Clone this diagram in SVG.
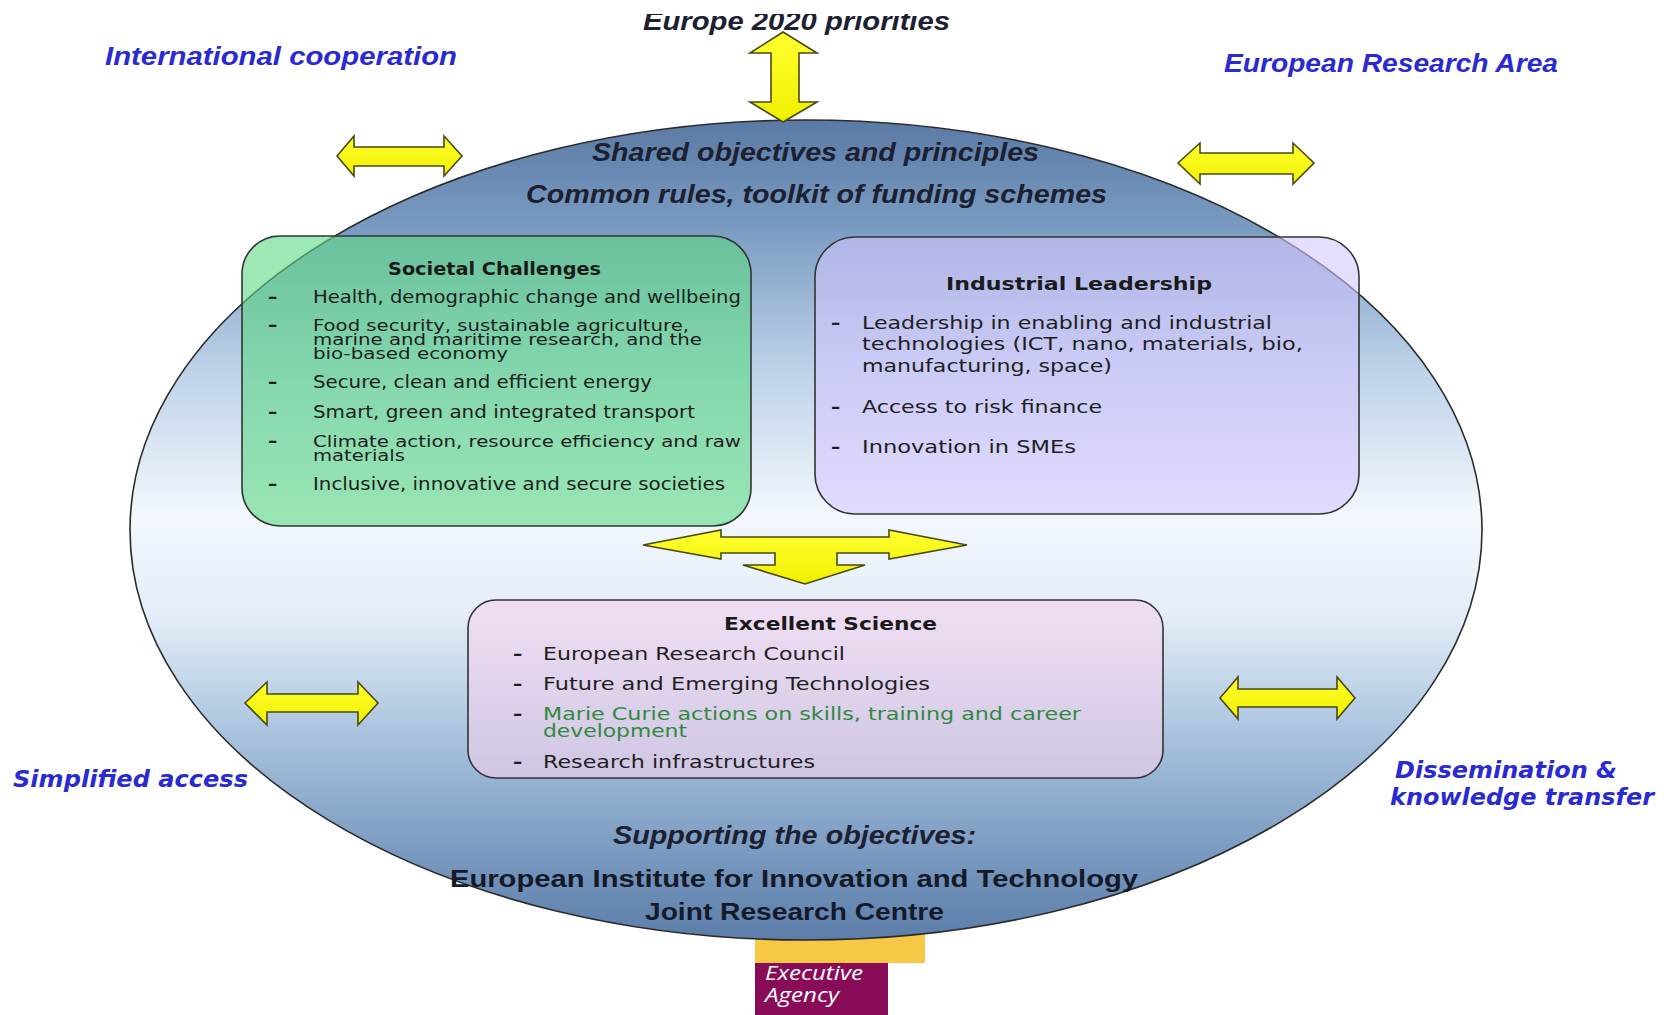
<svg xmlns="http://www.w3.org/2000/svg" width="1666" height="1015" viewBox="0 0 1666 1015">
<defs>
<linearGradient id="ellGrad" x1="0" y1="0" x2="0" y2="1">
<stop offset="0" stop-color="#5a7aa5"/>
<stop offset="0.13" stop-color="#7a9bc1"/>
<stop offset="0.3" stop-color="#bcd1e8"/>
<stop offset="0.48" stop-color="#f2f7fc"/>
<stop offset="0.6" stop-color="#e4eef8"/>
<stop offset="0.75" stop-color="#a9c3de"/>
<stop offset="0.9" stop-color="#7898bf"/>
<stop offset="1" stop-color="#5b7da8"/>
</linearGradient>
<linearGradient id="arrowGrad" x1="0" y1="0" x2="0" y2="1">
<stop offset="0" stop-color="#ffff30"/>
<stop offset="1" stop-color="#f0f000"/>
</linearGradient>
<clipPath id="topClip"><rect x="0" y="14" width="1666" height="60"/></clipPath>
</defs>
<style>
.blue{font-family:"Liberation Sans",Arial,sans-serif;font-weight:bold;font-style:italic;font-size:25px;fill:#2a2ad2}
.bluew{font-family:"DejaVu Sans",Verdana,sans-serif;font-weight:bold;font-style:italic;font-size:23px;fill:#2a2ad2}
.head{font-family:"Liberation Sans",Arial,sans-serif;font-weight:bold;font-style:italic;font-size:26px;fill:#1c2030}
.sup{font-family:"Liberation Sans",Arial,sans-serif;font-weight:bold;font-size:23px;fill:#141a28}
.title{font-family:"DejaVu Sans",Verdana,sans-serif;font-weight:bold;font-size:18px;fill:#1a1a1a}
.item{font-family:"DejaVu Sans",Verdana,sans-serif;font-size:18.5px;fill:#1e1e1e}
.wrap{font-size:16px}
.dash{font-weight:bold}
.green{fill:#2f8a3c}
.box{stroke:#333;stroke-width:1.6}
.arrow{fill:url(#arrowGrad);stroke:#4a4a10;stroke-width:1.6;stroke-linejoin:miter}
.exec{font-family:"Open Sans","DejaVu Sans",sans-serif;font-style:italic;font-size:20px;fill:#ffffff}
</style>
<rect width="1666" height="1015" fill="#ffffff"/>

<g id="executive-agency">
<rect x="755" y="920" width="170" height="43" fill="#f6c845"/>
<rect x="755" y="963" width="133" height="52" fill="#880c58"/>
<text class="exec" x="765" y="980" textLength="98" lengthAdjust="spacingAndGlyphs">Executive</text>
<text class="exec" x="765" y="1002" textLength="74" lengthAdjust="spacingAndGlyphs">Agency</text>
</g>

<g id="framework">
<ellipse cx="806" cy="530" rx="676" ry="410" fill="url(#ellGrad)" stroke="#2b2b2b" stroke-width="1.6"/>
<text class="head" x="592" y="161" textLength="447" lengthAdjust="spacingAndGlyphs">Shared objectives and principles</text>
<text class="head" x="526" y="203" textLength="581" lengthAdjust="spacingAndGlyphs">Common rules, toolkit of funding schemes</text>
<text class="head" x="613" y="844" textLength="363" lengthAdjust="spacingAndGlyphs">Supporting the objectives:</text>
<text class="sup" x="450" y="887" textLength="688" lengthAdjust="spacingAndGlyphs">European Institute for Innovation and Technology</text>
<text class="sup" x="645" y="920" textLength="299" lengthAdjust="spacingAndGlyphs">Joint Research Centre</text>
</g>

<g id="europe-2020">
<text class="head" x="643" y="30" font-size="28" fill="#1a1a1a" clip-path="url(#topClip)" textLength="307" lengthAdjust="spacingAndGlyphs">Europe 2020 priorities</text>
</g>
<g id="international-cooperation">
<text class="blue" x="105" y="65" textLength="352" lengthAdjust="spacingAndGlyphs">International cooperation</text>
</g>
<g id="european-research-area">
<text class="blue" x="1224" y="72" textLength="334" lengthAdjust="spacingAndGlyphs">European Research Area</text>
</g>
<g id="simplified-access">
<text class="bluew" x="13" y="787" textLength="235" lengthAdjust="spacingAndGlyphs">Simplified access</text>
</g>
<g id="dissemination">
<text class="bluew" x="1395" y="778" textLength="222" lengthAdjust="spacingAndGlyphs">Dissemination &amp;</text>
<text class="bluew" x="1390" y="805" textLength="264" lengthAdjust="spacingAndGlyphs">knowledge transfer</text>
</g>

<g id="societal-challenges">
<rect class="box" x="242" y="236" width="509" height="290" rx="38" fill="#5cd884" fill-opacity="0.6"/>
<text class="title" x="388" y="275" textLength="213" lengthAdjust="spacingAndGlyphs">Societal Challenges</text>
<g class="item">
<text class="dash" x="268" y="303">–</text>
<text x="313" y="303" textLength="428" lengthAdjust="spacingAndGlyphs">Health, demographic change and wellbeing</text>
<text class="dash" x="268" y="331">–</text>
<text class="wrap" x="313" y="331" textLength="376" lengthAdjust="spacingAndGlyphs">Food security, sustainable agriculture,</text>
<text class="wrap" x="313" y="345" textLength="389" lengthAdjust="spacingAndGlyphs">marine and maritime research, and the</text>
<text class="wrap" x="313" y="359" textLength="195" lengthAdjust="spacingAndGlyphs">bio-based economy</text>
<text class="dash" x="268" y="388">–</text>
<text x="313" y="388" textLength="339" lengthAdjust="spacingAndGlyphs">Secure, clean and efficient energy</text>
<text class="dash" x="268" y="418">–</text>
<text x="313" y="418" textLength="382" lengthAdjust="spacingAndGlyphs">Smart, green and integrated transport</text>
<text class="dash" x="268" y="447">–</text>
<text class="wrap" x="313" y="447" textLength="428" lengthAdjust="spacingAndGlyphs">Climate action, resource efficiency and raw</text>
<text class="wrap" x="313" y="461" textLength="92" lengthAdjust="spacingAndGlyphs">materials</text>
<text class="dash" x="268" y="490">–</text>
<text x="313" y="490" textLength="412" lengthAdjust="spacingAndGlyphs">Inclusive, innovative and secure societies</text>
</g>
</g>

<g id="industrial-leadership">
<rect class="box" x="815" y="237" width="544" height="277" rx="40" fill="#d4c6ff" fill-opacity="0.58"/>
<text class="title" x="946" y="290" font-size="20" textLength="266" lengthAdjust="spacingAndGlyphs">Industrial Leadership</text>
<g class="item" font-size="20">
<text class="dash" x="831" y="329">–</text>
<text x="862" y="329" textLength="410" lengthAdjust="spacingAndGlyphs">Leadership in enabling and industrial</text>
<text x="862" y="350" textLength="441" lengthAdjust="spacingAndGlyphs">technologies (ICT, nano, materials, bio,</text>
<text x="862" y="372" textLength="250" lengthAdjust="spacingAndGlyphs">manufacturing, space)</text>
<text class="dash" x="831" y="413">–</text>
<text x="862" y="413" textLength="240" lengthAdjust="spacingAndGlyphs">Access to risk finance</text>
<text class="dash" x="831" y="453">–</text>
<text x="862" y="453" textLength="214" lengthAdjust="spacingAndGlyphs">Innovation in SMEs</text>
</g>
</g>

<g id="excellent-science">
<rect class="box" x="468" y="600" width="695" height="178" rx="28" fill="#f5d2ee" fill-opacity="0.6"/>
<text class="title" x="724" y="630" font-size="19" textLength="213" lengthAdjust="spacingAndGlyphs">Excellent Science</text>
<g class="item" font-size="19">
<text class="dash" x="513" y="660">–</text>
<text x="543" y="660" textLength="302" lengthAdjust="spacingAndGlyphs">European Research Council</text>
<text class="dash" x="513" y="690">–</text>
<text x="543" y="690" textLength="387" lengthAdjust="spacingAndGlyphs">Future and Emerging Technologies</text>
<text class="dash" x="513" y="720">–</text>
<text class="green" x="543" y="720" textLength="538" lengthAdjust="spacingAndGlyphs">Marie Curie actions on skills, training and career</text>
<text class="green" x="543" y="737" font-size="17" textLength="144" lengthAdjust="spacingAndGlyphs">development</text>
<text class="dash" x="513" y="768">–</text>
<text x="543" y="768" textLength="272" lengthAdjust="spacingAndGlyphs">Research infrastructures</text>
</g>
</g>

<g id="connectors">
<path class="arrow" d="M783,32 L817,53 L799,53 L799,102 L817,102 L783,122 L750,102 L771,102 L771,53 L750,53 Z"/>
<path class="arrow" d="M337,156 L354,136 L354,147 L444,147 L444,136 L462,156 L444,176 L444,166 L354,166 L354,176 Z"/>
<path class="arrow" d="M1178,163 L1200,143 L1200,153 L1293,153 L1293,143 L1314,163 L1293,184 L1293,174 L1200,174 L1200,184 Z"/>
<path class="arrow" d="M245,703 L267,682 L267,694 L358,694 L358,682 L378,703 L358,725 L358,712 L267,712 L267,725 Z"/>
<path class="arrow" d="M1220,698 L1238,677 L1238,689 L1337,689 L1337,677 L1355,698 L1337,719 L1337,707 L1238,707 L1238,719 Z"/>
<path class="arrow" d="M643,545 L721,530 L721,537 L889,537 L889,530 L967,545 L889,559 L889,553 L837,553 L837,565 L865,565 L805,584 L743,565 L775,565 L775,553 L721,553 L721,559 Z"/>
</g>
</svg>
